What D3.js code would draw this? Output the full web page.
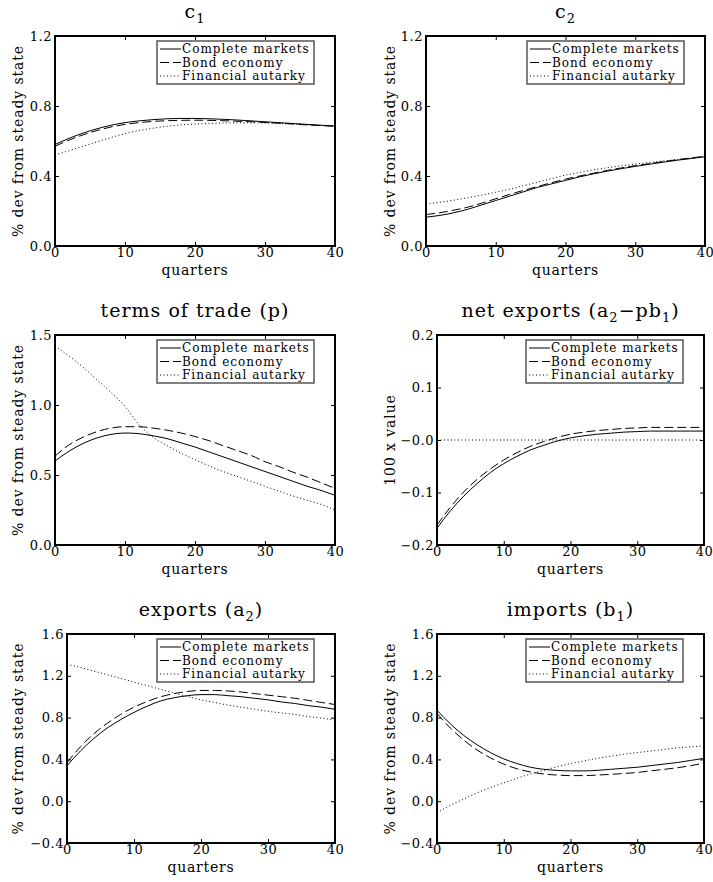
<!DOCTYPE html>
<html>
<head>
<meta charset="utf-8">
<script src="https://cdn.jsdelivr.net/npm/d3@7"></script>
<style>
  body { margin: 0; background: #fff; }
  text { font-family: "DejaVu Serif", serif; fill: #000; }
</style>
</head>
<body>
<div id="chart"></div>
<script>
// impulse responses, one value every 2 quarters (0..40)
var quarters = d3.range(0, 41, 2);
var seriesNames = ["Complete markets", "Bond economy", "Financial autarky"];
var xTicks = [0, 10, 20, 30, 40];

var c1Complete = [0.58, 0.615, 0.645, 0.67, 0.69, 0.705, 0.715, 0.722, 0.727, 0.729, 0.729, 0.727, 0.724, 0.72, 0.715, 0.71, 0.705, 0.70, 0.695, 0.69, 0.686];
var c1Bond     = [0.57, 0.605, 0.635, 0.66, 0.68, 0.695, 0.705, 0.712, 0.716, 0.718, 0.719, 0.718, 0.716, 0.713, 0.71, 0.706, 0.702, 0.697, 0.692, 0.688, 0.684];
var c1Autarky  = [0.52, 0.545, 0.57, 0.595, 0.62, 0.642, 0.66, 0.673, 0.684, 0.692, 0.697, 0.70, 0.703, 0.704, 0.704, 0.703, 0.70, 0.697, 0.693, 0.689, 0.685];

var c2Complete = [0.165, 0.175, 0.19, 0.21, 0.235, 0.26, 0.285, 0.31, 0.335, 0.355, 0.375, 0.395, 0.412, 0.428, 0.442, 0.455, 0.467, 0.479, 0.49, 0.50, 0.51];
var c2Bond     = [0.18, 0.19, 0.205, 0.222, 0.245, 0.27, 0.295, 0.318, 0.34, 0.362, 0.382, 0.40, 0.416, 0.432, 0.446, 0.459, 0.47, 0.482, 0.493, 0.503, 0.513];
var c2Autarky  = [0.24, 0.25, 0.262, 0.276, 0.291, 0.307, 0.325, 0.345, 0.365, 0.385, 0.405, 0.42, 0.435, 0.447, 0.458, 0.468, 0.477, 0.486, 0.494, 0.502, 0.51];

var totComplete = [0.60, 0.67, 0.725, 0.765, 0.79, 0.80, 0.795, 0.78, 0.76, 0.73, 0.70, 0.665, 0.63, 0.595, 0.56, 0.525, 0.49, 0.455, 0.42, 0.39, 0.355];
var totBond     = [0.635, 0.715, 0.77, 0.81, 0.835, 0.845, 0.845, 0.835, 0.82, 0.80, 0.775, 0.745, 0.71, 0.675, 0.64, 0.595, 0.56, 0.52, 0.485, 0.445, 0.405];
var totAutarky  = [1.42, 1.35, 1.27, 1.18, 1.09, 0.99, 0.86, 0.77, 0.71, 0.655, 0.61, 0.565, 0.525, 0.49, 0.455, 0.42, 0.385, 0.35, 0.32, 0.29, 0.25];

var nxComplete = [-0.168, -0.135, -0.107, -0.083, -0.062, -0.045, -0.031, -0.019, -0.01, -0.002, 0.004, 0.008, 0.011, 0.013, 0.015, 0.016, 0.017, 0.017, 0.017, 0.017, 0.017];
var nxBond     = [-0.162, -0.128, -0.099, -0.075, -0.055, -0.038, -0.024, -0.012, -0.003, 0.005, 0.011, 0.015, 0.018, 0.02, 0.022, 0.023, 0.024, 0.024, 0.024, 0.024, 0.024];
var nxAutarky  = [0, 0, 0, 0, 0, 0, 0, 0, 0, 0, 0, 0, 0, 0, 0, 0, 0, 0, 0, 0, 0];

var exComplete = [0.34, 0.48, 0.60, 0.70, 0.78, 0.85, 0.91, 0.96, 0.99, 1.01, 1.02, 1.02, 1.01, 1.0, 0.985, 0.97, 0.95, 0.935, 0.915, 0.90, 0.88];
var exBond     = [0.37, 0.52, 0.645, 0.745, 0.83, 0.90, 0.955, 1.0, 1.03, 1.05, 1.06, 1.06, 1.055, 1.045, 1.03, 1.015, 1.0, 0.985, 0.965, 0.945, 0.925];
var exAutarky  = [1.31, 1.28, 1.245, 1.21, 1.175, 1.14, 1.105, 1.07, 1.035, 1.0, 0.97, 0.945, 0.92, 0.90, 0.88, 0.86, 0.845, 0.83, 0.81, 0.795, 0.775];

var imComplete = [0.87, 0.74, 0.63, 0.54, 0.465, 0.405, 0.36, 0.325, 0.305, 0.295, 0.29, 0.29, 0.295, 0.305, 0.315, 0.325, 0.34, 0.355, 0.37, 0.39, 0.41];
var imBond     = [0.84, 0.70, 0.585, 0.49, 0.415, 0.355, 0.31, 0.28, 0.26, 0.25, 0.245, 0.245, 0.25, 0.257, 0.265, 0.275, 0.29, 0.305, 0.32, 0.34, 0.365];
var imAutarky  = [-0.11, -0.04, 0.02, 0.08, 0.13, 0.175, 0.22, 0.26, 0.295, 0.33, 0.36, 0.385, 0.41, 0.43, 0.45, 0.465, 0.48, 0.495, 0.51, 0.52, 0.53];

var ticksC = [0, 0.4, 0.8, 1.2];
var labelsC = ["0.0", "0.4", "0.8", "1.2"];
var ticksTot = [0, 0.5, 1.0, 1.5];
var labelsTot = ["0.0", "0.5", "1.0", "1.5"];
var ticksNx = [-0.2, -0.1, 0, 0.1, 0.2];
var labelsNx = ["\u22120.2", "\u22120.1", "\u22120.0", "0.1", "0.2"];
var ticksTrade = [-0.4, 0, 0.4, 0.8, 1.2, 1.6];
var labelsTrade = ["\u22120.4", "0.0", "0.4", "0.8", "1.2", "1.6"];

var width = 713, height = 882;
var svg = d3.select("#chart").append("svg")
  .attr("width", width)
  .attr("height", height);

var dashes = [null, "9,4", "1,2.5"];

// title is list of [text, isSubscript]
var panels = [
  {title: [["c", 0], ["1", 1]], ylab: "% dev from steady state", yTicks: ticksC, yLabels: labelsC,
   series: [c1Complete, c1Bond, c1Autarky], box: [55, 36, 335, 246]},
  {title: [["c", 0], ["2", 1]], ylab: "% dev from steady state", yTicks: ticksC, yLabels: labelsC,
   series: [c2Complete, c2Bond, c2Autarky], box: [426, 36, 705, 246]},
  {title: [["terms of trade (p)", 0]], ylab: "% dev from steady state", yTicks: ticksTot, yLabels: labelsTot,
   series: [totComplete, totBond, totAutarky], box: [55, 335, 335, 545]},
  {title: [["net exports (a", 0], ["2", 1], ["\u2212pb", 0], ["1", 1], [")", 0]], ylab: "100 x value", yTicks: ticksNx, yLabels: labelsNx,
   series: [nxComplete, nxBond, nxAutarky], box: [437, 335, 704, 545]},
  {title: [["exports (a", 0], ["2", 1], [")", 0]], ylab: "% dev from steady state", yTicks: ticksTrade, yLabels: labelsTrade,
   series: [exComplete, exBond, exAutarky], box: [67, 634, 335, 843]},
  {title: [["imports (b", 0], ["1", 1], [")", 0]], ylab: "% dev from steady state", yTicks: ticksTrade, yLabels: labelsTrade,
   series: [imComplete, imBond, imAutarky], box: [437, 634, 704, 843]}
];

var ylabX = [18, 390, 18, 390, 18, 390];

panels.forEach(function(p, i) {
  var x0 = p.box[0], y0 = p.box[1], x1 = p.box[2], y1 = p.box[3];
  var x = d3.scaleLinear().domain([0, 40]).range([x0, x1]);
  var y = d3.scaleLinear().domain(d3.extent(p.yTicks)).range([y1, y0]);
  var g = svg.append("g");

  // title
  var t = g.append("text")
    .attr("x", (x0 + x1) / 2)
    .attr("y", y0 - 18)
    .attr("text-anchor", "middle")
    .style("font-size", "19px")
    .style("letter-spacing", "1px");
  p.title.forEach(function(part, j) {
    var ts = t.append("tspan").text(part[0]);
    if (part[1]) ts.attr("dy", 5).style("font-size", "13px");
    else ts.attr("dy", j === 0 ? 0 : -5);
  });

  // clip for data lines
  g.append("clipPath").attr("id", "clip" + i)
    .append("rect").attr("x", x0).attr("y", y0).attr("width", x1 - x0).attr("height", y1 - y0);

  var line = d3.line()
    .x(function(d, j) { return x(quarters[j]); })
    .y(function(d) { return y(d); })
    .curve(d3.curveMonotoneX);

  p.series.forEach(function(s, k) {
    g.append("path")
      .attr("d", line(s))
      .attr("clip-path", "url(#clip" + i + ")")
      .attr("fill", "none")
      .attr("stroke", "#000")
      .attr("stroke-width", 1)
      .attr("stroke-dasharray", dashes[k]);
  });

  // axes: inner ticks on all sides
  var ax = g.append("g");
  ax.append("g").attr("transform", "translate(0," + y1 + ")")
    .call(d3.axisBottom(x).tickValues(xTicks).tickSize(-4).tickPadding(2).tickFormat(d3.format("d")));
  ax.append("g").attr("transform", "translate(0," + y0 + ")")
    .call(d3.axisTop(x).tickValues(xTicks).tickSize(-4).tickFormat(""));
  ax.append("g").attr("transform", "translate(" + x0 + ",0)")
    .call(d3.axisLeft(y).tickValues(p.yTicks).tickSize(-4).tickPadding(3)
      .tickFormat(function(d, j) { return p.yLabels[j]; }));
  ax.append("g").attr("transform", "translate(" + x1 + ",0)")
    .call(d3.axisRight(y).tickValues(p.yTicks).tickSize(-4).tickFormat(""));
  ax.selectAll(".domain").remove();
  ax.selectAll(".tick line").attr("stroke", "#000").attr("stroke-width", 1);
  ax.selectAll(".tick text")
    .style("font-family", "'DejaVu Serif', serif")
    .style("font-size", "13px")
    .style("letter-spacing", "0.5px")
    .attr("fill", "#000");

  // frame
  g.append("rect")
    .attr("x", x0).attr("y", y0)
    .attr("width", x1 - x0).attr("height", y1 - y0)
    .attr("fill", "none").attr("stroke", "#000").attr("stroke-width", 2);

  // axis titles
  g.append("text")
    .attr("x", (x0 + x1) / 2)
    .attr("y", y1 + 29)
    .attr("text-anchor", "middle")
    .style("font-size", "14px")
    .style("letter-spacing", "0.8px")
    .text("quarters");
  g.append("text")
    .attr("transform", "translate(" + ylabX[i] + "," + (y0 + y1) / 2 + ") rotate(-90)")
    .attr("text-anchor", "middle")
    .attr("dy", "0.35em")
    .style("font-size", "14px")
    .style("letter-spacing", "0.9px")
    .text(p.ylab);

  // legend
  var lw = 157, lh = 43;
  var lx = x1 - 21 - lw, ly = y0 + 5;
  var lg = g.append("g").attr("transform", "translate(" + lx + "," + ly + ")");
  lg.append("rect").attr("width", lw).attr("height", lh)
    .attr("fill", "#fff").attr("stroke", "#555").attr("stroke-width", 1.5);
  seriesNames.forEach(function(name, k) {
    var yy = 8 + k * 13.5;
    lg.append("line")
      .attr("x1", 3).attr("x2", 24).attr("y1", yy).attr("y2", yy)
      .attr("stroke", "#000").attr("stroke-width", 1)
      .attr("stroke-dasharray", dashes[k]);
    lg.append("text")
      .attr("x", 25).attr("y", yy)
      .attr("dy", "0.35em")
      .style("font-size", "12px")
      .style("letter-spacing", "1px")
      .text(name);
  });
});
</script>
</body>
</html>
